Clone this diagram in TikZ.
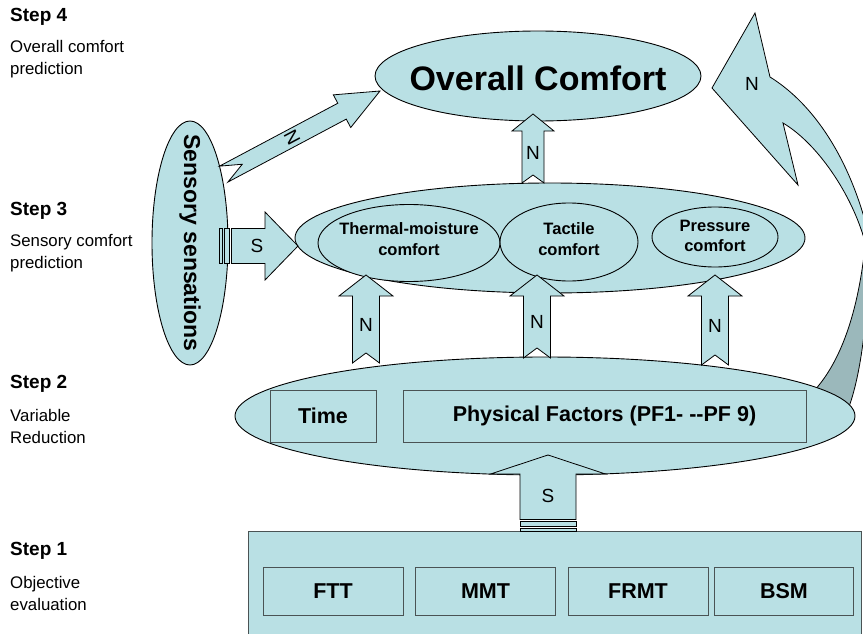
\documentclass[tikz,border=0pt]{standalone}
\usepackage{fontspec}
\setmainfont{Liberation Sans}
\usepackage{tikz}
\usetikzlibrary{positioning, shapes.geometric, calc}
\definecolor{ptaqua}{HTML}{B9E0E4}
\definecolor{ptaquadk}{HTML}{9BB8BB}
\definecolor{ptedge}{HTML}{4A5354}

\begin{document}
\begin{tikzpicture}[
    x=1pt, y=-1pt,
    blob/.style={ellipse, draw, line width=0.9pt, fill=ptaqua,
                 inner sep=0pt},
    cbox/.style={rectangle, draw=ptedge, line width=0.9pt, fill=ptaqua,
                 inner sep=0pt, font=\fontsize{21.5}{25}\selectfont\bfseries},
    arrowbody/.style={draw, line width=0.8pt, fill=ptaqua, line join=miter},
    arrowlbl/.style={inner sep=0pt, font=\fontsize{19}{22}\selectfont},
    innerlbl/.style={align=center, inner sep=0pt,
                     font=\fontsize{16.5}{20.5}\selectfont\bfseries},
    stagebf/.style={anchor=west, inner sep=0pt,
                    font=\fontsize{19}{22}\selectfont\bfseries},
    small/.style={anchor=west, align=left, inner sep=0pt,
                  font=\fontsize{16.8}{22}\selectfont},
    % block arrow with a notched tail, tip at the origin
    pics/notchup/.style n args={6}{code={
        \draw[arrowbody] (0,0) -- (#3,#4) -- (#2,#4) -- (#2,#1)
            -- (0,#1-#5) -- (-#2,#1) -- (-#2,#4) -- (-#3,#4) -- cycle;
        \node[arrowlbl, transform shape] at (0,{(#4+#1-#5)/2}) {#6};
    }},
    % block arrow with two stripes at the tail, tip at the origin
    pics/stripeup/.style n args={6}{code={
        \draw[arrowbody] (0,0) -- (#3,#4) -- (#2,#4) -- (#2,#1)
            -- (-#2,#1) -- (-#2,#4) -- (-#3,#4) -- cycle;
        \draw[arrowbody] (-#2,#1+2) rectangle (#2,#1+7);
        \draw[arrowbody] (-#2,#1+9) rectangle (#2,#1+12);
        \node[arrowlbl] at (0,#5) {#6};
    }},
]
\useasboundingbox (0,0) rectangle (863,634);
\clip (0,0) rectangle (863,634);

% ============== step labels ==============
\node[stagebf] (st4) at (10,17) {Step 4};
\node[small] (st4t) at (10,59) {Overall comfort\\prediction};
\node[stagebf] (st3) at (10,211) {Step 3};
\node[small] (st3t) at (10,253) {Sensory comfort\\prediction};
\node[stagebf] (st2) at (10,384) {Step 2};
\node[small] (st2t) at (10,426) {Variable\\Reduction};
\node[stagebf] (st1) at (10,551) {Step 1};
\node[small] (st1t) at (10,593) {Objective\\evaluation};

% ============== curved feedback arrow (behind step 2) ==============
\draw[line width=0.8pt, fill=ptaqua, line join=miter]
    (755,13) -- (770,77) .. controls (815,105) and (850,160) .. (868,232)
    -- (866,246) .. controls (855,200) and (820,145) .. (783,123)
    -- (798,185) -- (712,88) -- cycle;
\draw[line width=0.8pt, fill=ptaquadk]
    (866,236) .. controls (860,305) and (843,360) .. (813,392)
    -- (847,412) .. controls (860,380) and (869,320) .. (869,236) -- cycle;
\node[arrowlbl] (nfb) at (752,84) {N};

% ============== step 2: variable reduction ==============
\node[blob, minimum width=620, minimum height=118] (red) at (545,416) {};
\node[cbox, minimum width=106, minimum height=52] (time) at (323,416) {Time};
\node[cbox, minimum width=403, minimum height=52] (pf) at (604.5,416)
    {Physical Factors (PF1- -{}-PF 9)};

% ============== step 3: sensory comfort ==============
\node[blob, minimum width=510, minimum height=110] (sens) at (550,238) {};
\node[blob, minimum width=182, minimum height=77] (therm) at (409,243) {};
\node[blob, minimum width=138, minimum height=78] (tact) at (569,242) {};
\node[blob, minimum width=126, minimum height=60] (press) at (715,237) {};
\node[innerlbl] at (409,239) {Thermal-moisture\\comfort};
\node[innerlbl] at (569,239) {Tactile\\comfort};
\node[innerlbl] at (715,236) {Pressure\\comfort};

% ============== step 4: overall comfort ==============
\node[blob, minimum width=326, minimum height=90] (over) at (538,76) {};
\node[inner sep=0pt, font=\fontsize{34}{38}\selectfont\bfseries]
    at (538,78) {Overall Comfort};

% ============== sensory sensations ==============
\node[blob, minimum width=76, minimum height=244] (ssen) at (190,243) {};
\node[inner sep=0pt, rotate=-90, font=\fontsize{23}{26}\selectfont\bfseries]
    at (190,243) {Sensory sensations};

% ============== step 1: objective evaluation ==============
\node[rectangle, draw=ptedge, line width=0.9pt, fill=ptaqua,
      minimum width=613, minimum height=120, anchor=north west]
    (obj) at (248,531) {};
\node[cbox, minimum width=140, minimum height=48] (ftt) at (333,591) {FTT};
\node[cbox, minimum width=140, minimum height=48] (mmt) at (485.5,591) {MMT};
\node[cbox, minimum width=140, minimum height=48] (frmt) at (638,591) {FRMT};
\node[cbox, minimum width=139, minimum height=48] (bsm) at (784,591) {BSM};

% ============== block arrows ==============
\pic at (548,455) {stripeup={64.5}{28}{57.5}{19}{41}{S}};
\pic at (366,275) {notchup={88}{13.5}{27}{21}{10}{N}};
\pic at (537,275) {notchup={83}{13.5}{27}{21}{10}{N}};
\pic at (715,275) {notchup={90}{13.5}{27}{21}{10}{N}};
\pic at (533,114) {notchup={69}{11}{21}{17}{8}{N}};
\pic[rotate=-90] at (298,246) {stripeup={66.5}{17.5}{34}{33}{41}{S}};
\pic[rotate=-62] at (380,91) {notchup={177}{9}{18.5}{43}{21}{N}};

\end{tikzpicture}
\end{document}
